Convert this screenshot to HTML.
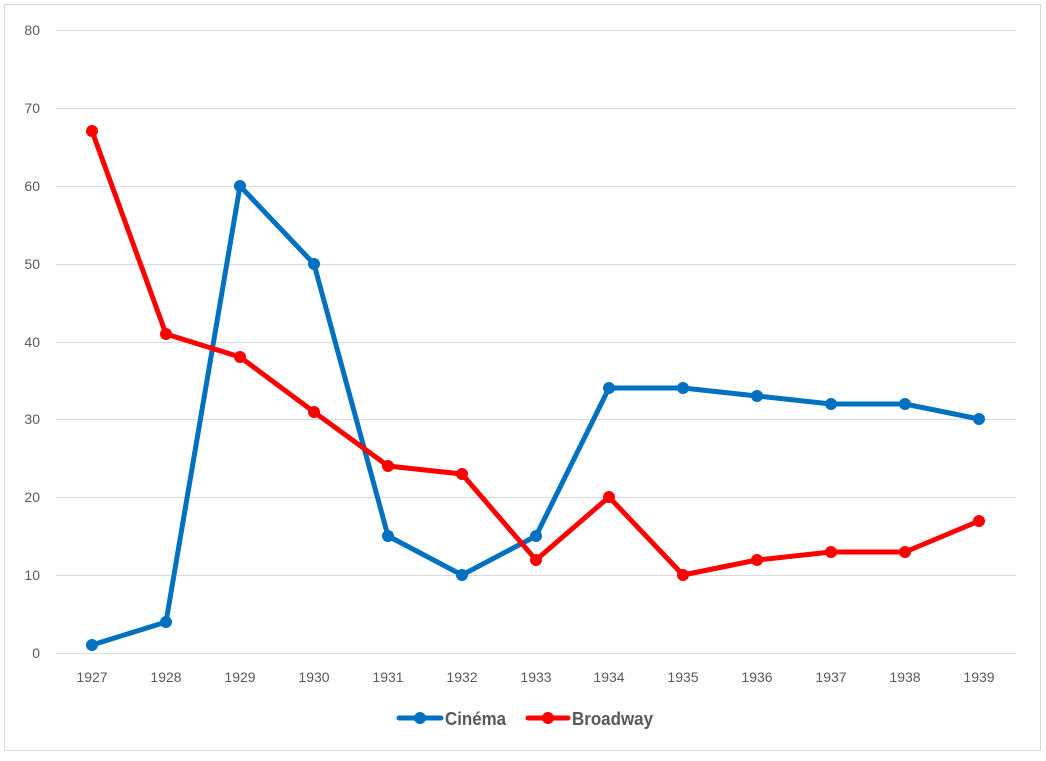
<!DOCTYPE html>
<html><head><style>body{margin:0;background:#fff}</style></head><body>
<svg width="1046" height="756" xmlns="http://www.w3.org/2000/svg" font-family="Liberation Sans, sans-serif">
<rect x="0" y="0" width="1046" height="756" fill="#fff"/>
<rect x="4.5" y="4.5" width="1036" height="746" fill="none" stroke="#d9d9d9" stroke-width="1"/>
<g stroke="#d9d9d9" stroke-width="1">
<line x1="56" x2="1016" y1="30.5" y2="30.5"/><line x1="56" x2="1016" y1="108.5" y2="108.5"/>
<line x1="56" x2="1016" y1="186.5" y2="186.5"/><line x1="56" x2="1016" y1="264.5" y2="264.5"/>
<line x1="56" x2="1016" y1="342.5" y2="342.5"/><line x1="56" x2="1016" y1="419.5" y2="419.5"/>
<line x1="56" x2="1016" y1="497.5" y2="497.5"/><line x1="56" x2="1016" y1="575.5" y2="575.5"/>
<line x1="56" x2="1016" y1="653.5" y2="653.5"/>
</g>
<g fill="#595959" font-size="14" text-anchor="end">
<text x="40" y="35">80</text><text x="40" y="113">70</text><text x="40" y="191">60</text><text x="40" y="269">50</text><text x="40" y="347">40</text><text x="40" y="424">30</text><text x="40" y="502">20</text><text x="40" y="580">10</text><text x="40" y="658">0</text>
</g>
<g fill="#595959" font-size="14" text-anchor="middle">
<text x="92" y="682">1927</text><text x="166" y="682">1928</text><text x="240" y="682">1929</text><text x="314" y="682">1930</text><text x="388" y="682">1931</text><text x="462" y="682">1932</text><text x="536" y="682">1933</text><text x="609" y="682">1934</text><text x="683" y="682">1935</text><text x="757" y="682">1936</text><text x="831" y="682">1937</text><text x="905" y="682">1938</text><text x="979" y="682">1939</text>
</g>
<g fill="#0070c0" stroke="#0070c0">
<polyline fill="none" stroke-width="5" stroke-linejoin="round" points="92,645 166,622 240,186 314,264 388,536 462,575 536,536 609,388 683,388 757,396 831,404 905,404 979,419"/>
<g stroke="none"><circle cx="92" cy="645" r="6"/><circle cx="166" cy="622" r="6"/><circle cx="240" cy="186" r="6"/><circle cx="314" cy="264" r="6"/><circle cx="388" cy="536" r="6"/><circle cx="462" cy="575" r="6"/><circle cx="536" cy="536" r="6"/><circle cx="609" cy="388" r="6"/><circle cx="683" cy="388" r="6"/><circle cx="757" cy="396" r="6"/><circle cx="831" cy="404" r="6"/><circle cx="905" cy="404" r="6"/><circle cx="979" cy="419" r="6"/></g>
</g>
<g fill="#ff0000" stroke="#ff0000">
<polyline fill="none" stroke-width="5" stroke-linejoin="round" points="92,131 166,334 240,357 314,412 388,466 462,474 536,560 609,497 683,575 757,560 831,552 905,552 979,521"/>
<g stroke="none"><circle cx="92" cy="131" r="6"/><circle cx="166" cy="334" r="6"/><circle cx="240" cy="357" r="6"/><circle cx="314" cy="412" r="6"/><circle cx="388" cy="466" r="6"/><circle cx="462" cy="474" r="6"/><circle cx="536" cy="560" r="6"/><circle cx="609" cy="497" r="6"/><circle cx="683" cy="575" r="6"/><circle cx="757" cy="560" r="6"/><circle cx="831" cy="552" r="6"/><circle cx="905" cy="552" r="6"/><circle cx="979" cy="521" r="6"/></g>
</g>
<line x1="399" x2="441" y1="718" y2="718" stroke="#0070c0" stroke-width="5" stroke-linecap="round"/>
<circle cx="420" cy="718" r="6" fill="#0070c0"/>
<text x="445" y="725" textLength="61" lengthAdjust="spacingAndGlyphs" font-weight="bold" font-size="18" fill="#595959">Cinéma</text>
<line x1="528" x2="568" y1="718" y2="718" stroke="#ff0000" stroke-width="5" stroke-linecap="round"/>
<circle cx="548" cy="718" r="6" fill="#ff0000"/>
<text x="572" y="725" textLength="81" lengthAdjust="spacingAndGlyphs" font-weight="bold" font-size="18" fill="#595959">Broadway</text>
</svg>
</body></html>
